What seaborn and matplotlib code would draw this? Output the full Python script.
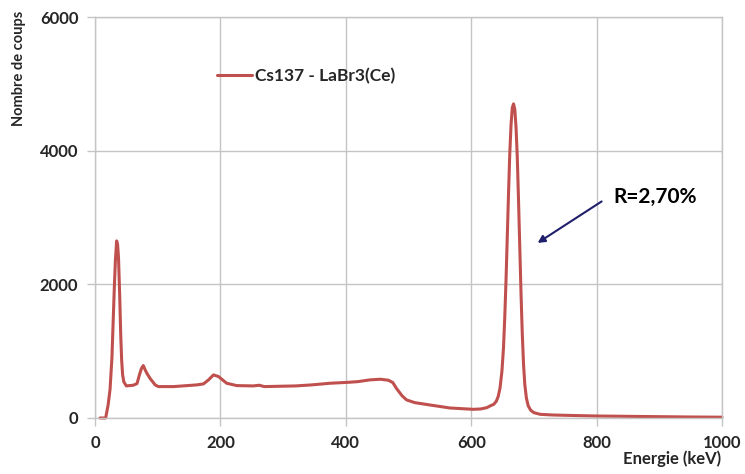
import matplotlib
matplotlib.use("Agg")
import matplotlib.pyplot as plt
import seaborn as sns
import pandas as pd

# Cs-137 gamma spectrum measured with a LaBr3(Ce) scintillator
energy_kev = [8, 17, 21, 24, 27, 29, 31, 32.5, 34.5, 36, 37.5, 39.5, 41, 42.5, 44, 46,
              50, 55, 61, 67, 71, 74, 77, 80, 83, 88, 96, 101, 110, 125, 140, 162,
              173, 181, 189, 197, 210, 226, 252, 262, 270, 295, 320, 345, 375, 406,
              420, 438, 455, 468, 475, 481, 490, 497, 510, 534, 566, 603, 615, 625,
              630, 636, 640, 643, 646, 649, 651.5, 653.5, 655.5, 657.5, 659.5, 661.5,
              663.5, 665.5, 667.5, 669.5, 671.5, 673.5, 675.5, 677.5, 679.5, 681.5,
              683.5, 685.5, 688, 691, 695, 700, 710, 730, 760, 800, 850, 900, 950, 1000]
counts = [0, 0, 200, 430, 900, 1450, 2000, 2350, 2650, 2600, 2400, 1800, 1250, 870, 650, 540,
          480, 485, 490, 515, 650, 740, 785, 720, 665, 590, 495, 470, 470, 470, 480, 495,
          510, 570, 645, 620, 520, 485, 480, 490, 470, 475, 480, 495, 520, 535,
          545, 570, 580, 565, 530, 440, 330, 270, 230, 195, 150, 130, 135, 155,
          180, 205, 250, 320, 450, 700, 1050, 1500, 2050, 2700, 3350, 3950,
          4380, 4640, 4700, 4620, 4350, 3900, 3250, 2550, 1850, 1250,
          800, 500, 300, 180, 115, 80, 55, 45, 38, 30, 25, 20, 15, 12]

x_ticks = [0, 200, 400, 600, 800, 1000]
y_ticks = [0, 2000, 4000, 6000]
series_label = "Cs137 - LaBr3(Ce)"
resolution_text = "R=2,70%"

spectrum = pd.DataFrame({"Energie": energy_kev, "Coups": counts})

sns.set_theme(style="white")
plt.rcParams["font.family"] = ["Lato", "DejaVu Sans"]
plt.rcParams["font.weight"] = "bold"

fig = plt.figure(figsize=(7.45, 4.74), dpi=100)
ax = fig.add_axes([95 / 745, 1 - 418 / 474, 627 / 745, 401 / 474])

grid_col = "#C4C4C4"
sns.lineplot(data=spectrum, x="Energie", y="Coups", ax=ax, color="#C0504D",
             linewidth=2.2, sort=False, estimator=None, label=series_label)
for ln in ax.lines:
    ln.set_clip_on(False)

ax.set_xlim(0, 1000)
ax.set_ylim(0, 6000)
ax.set_xticks(x_ticks)
ax.set_yticks(y_ticks)
ax.set_xticklabels([str(t) for t in x_ticks], fontsize=12, fontweight="bold")
ax.set_yticklabels([str(t) for t in y_ticks], fontsize=12, fontweight="bold")
ax.grid(True, color=grid_col, linewidth=1)
ax.set_axisbelow(True)
for side in ax.spines.values():
    side.set_color(grid_col)
    side.set_linewidth(1)
ax.tick_params(axis="both", which="major", direction="out", length=6, width=1,
               color=grid_col, pad=6, bottom=True, left=True)

ax.set_xlabel("Energie (keV)", fontsize=12, fontweight="bold")
ax.set_ylabel("Nombre de coups", fontsize=10.5, fontweight="bold")
ax.xaxis.set_label_coords(0.92, -0.082)
ax.yaxis.set_label_coords(-0.11, 0.873)

leg = ax.legend(loc="center left", bbox_to_anchor=(0.17, 0.852), frameon=False,
                handlelength=2.0, handletextpad=0.2, prop={"size": 12.5, "weight": "bold"})

ax.annotate("", xy=(706, 2620), xytext=(808, 3240),
            arrowprops=dict(arrowstyle="-|>,head_length=0.35,head_width=0.18",
                            color="#1F1F6B", lw=1.5, shrinkA=0, shrinkB=0))
ax.text(826, 3300, resolution_text, fontsize=15, fontweight="bold",
        ha="left", va="center", color="black")

fig.savefig("out.png", dpi=100)
